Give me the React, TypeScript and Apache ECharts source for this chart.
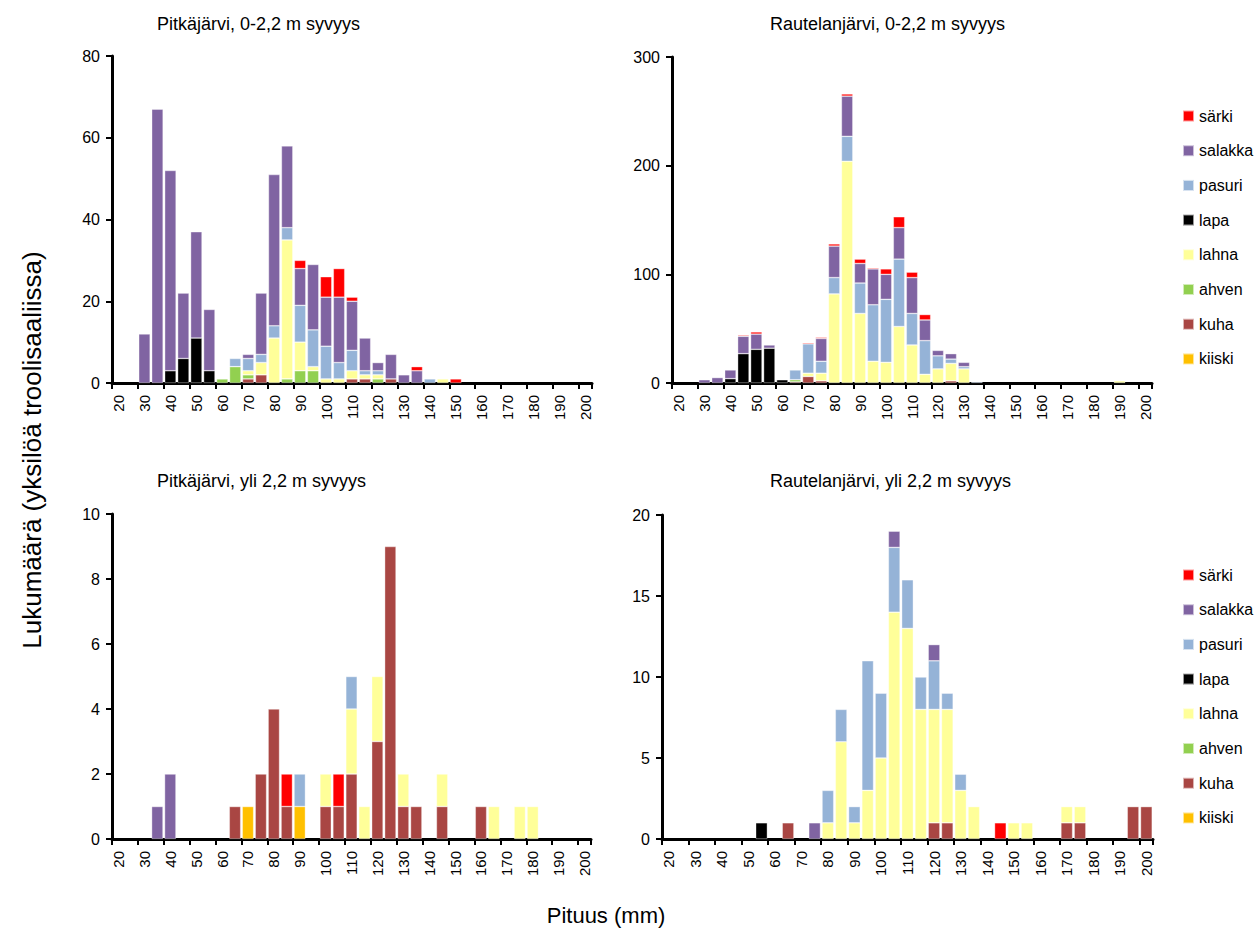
import React, { useEffect, useRef } from "react";
import * as echarts from "echarts";

// Length classes (mm)
const lengthClasses = [
  "20", "25", "30", "35", "40", "45", "50", "55", "60", "65",
  "70", "75", "80", "85", "90", "95", "100", "105", "110", "115",
  "120", "125", "130", "135", "140", "145", "150", "155", "160", "165",
  "170", "175", "180", "185", "190", "195", "200",
];

// Stack order bottom -> top
const speciesNames = ["kiiski", "kuha", "ahven", "lahna", "lapa", "pasuri", "salakka", "särki"];
const speciesColors = ["#FFC000", "#A94643", "#92D050", "#FFFF99", "#000000", "#95B3D7", "#8064A2", "#FF0000"];
const legendOrder = ["särki", "salakka", "pasuri", "lapa", "lahna", "ahven", "kuha", "kiiski"];

const panelTitles = [
  "Pitkäjärvi, 0-2,2 m syvyys",
  "Rautelanjärvi, 0-2,2 m syvyys",
  "Pitkäjärvi, yli 2,2 m syvyys",
  "Rautelanjärvi, yli 2,2 m syvyys",
];
const yMax = [80, 300, 10, 20];
const yInterval = [20, 100, 2, 5];

// Panel 1: Pitkäjärvi 0-2,2 m
const p1Kiiski = [0,0,0,0,0,0,0,0,0,0, 0,0,0,0,0,0,0,0,0,0, 0,0,0,0,0,0,0,0,0,0, 0,0,0,0,0,0,0];
const p1Kuha = [0,0,0,0,0,0,0,0,0,0, 1,2,0,0,0,0,0,0,1,1, 0,1,0,0,0,0,0,0,0,0, 0,0,0,0,0,0,0];
const p1Ahven = [0,0,0,0,0,0,0,0,1,4, 1,0,0,1,3,3,0,0,0,0, 1,0,0,0,0,0,0,0,0,0, 0,0,0,0,0,0,0];
const p1Lahna = [0,0,0,0,0,0,0,0,0,0, 1,3,11,34,7,1,1,1,2,1, 1,0,0,0,0,1,0,0,0,0, 0,0,0,0,0,0,0];
const p1Lapa = [0,0,0,0,3,6,11,3,0,0, 0,0,0,0,0,0,0,0,0,0, 0,0,0,0,0,0,0,0,0,0, 0,0,0,0,0,0,0];
const p1Pasuri = [0,0,0,0,0,0,0,0,0,2, 3,2,3,3,9,9,8,4,5,1, 1,0,0,0,1,0,0,0,0,0, 0,0,0,0,0,0,0];
const p1Salakka = [0,0,12,67,49,16,26,15,0,0, 1,15,37,20,9,16,12,16,12,8, 2,6,2,3,0,0,0,0,0,0, 0,0,0,0,0,0,0];
const p1Sarki = [0,0,0,0,0,0,0,0,0,0, 0,0,0,0,2,0,5,7,1,0, 0,0,0,1,0,0,1,0,0,0, 0,0,0,0,0,0,0];

// Panel 2: Rautelanjärvi 0-2,2 m
const p2Kiiski = [0,0,0,0,0,0,0,0,0,0, 0,0,0,0,0,0,0,0,0,0, 0,0,0,0,0,0,0,0,0,0, 0,0,0,0,0,0,0];
const p2Kuha = [0,0,0,0,0,0,0,0,0,1, 6,2,0,0,0,0,0,0,0,0, 0,2,0,0,0,0,0,0,0,0, 0,0,0,0,0,0,0];
const p2Ahven = [0,0,0,0,0,0,0,0,0,2, 0,0,0,0,0,0,0,0,0,0, 0,0,0,0,0,0,0,0,0,0, 0,0,0,0,0,0,0];
const p2Lahna = [0,0,0,0,0,0,0,0,0,0, 3,7,82,204,64,20,19,52,35,8, 13,16,13,0,0,0,0,0,0,0, 0,0,0,0,2,0,0];
const p2Lapa = [0,0,0,0,4,27,31,32,3,0, 0,0,0,0,0,0,0,0,0,0, 0,0,0,0,0,0,0,0,0,0, 0,0,0,0,0,0,0];
const p2Pasuri = [0,0,0,0,0,0,0,0,0,9, 27,11,15,23,28,52,58,62,29,31, 12,4,2,1,0,0,0,0,0,0, 0,0,0,0,0,0,0];
const p2Salakka = [0,0,3,5,8,16,14,3,0,0, 0,21,29,37,18,33,23,29,33,19, 5,5,4,0,0,0,0,0,0,0, 0,0,0,0,0,0,0];
const p2Sarki = [0,0,0,0,0,1,2,0,0,0, 1,1,2,2,4,1,5,10,5,5, 0,0,0,0,0,0,0,0,0,0, 0,0,0,0,0,0,0];

// Panel 3: Pitkäjärvi yli 2,2 m
const p3Kiiski = [0,0,0,0,0,0,0,0,0,0, 1,0,0,0,1,0,0,0,0,0, 0,0,0,0,0,0,0,0,0,0, 0,0,0,0,0,0,0];
const p3Kuha = [0,0,0,0,0,0,0,0,0,1, 0,2,4,1,0,0,1,1,2,0, 3,9,1,1,0,1,0,0,1,0, 0,0,0,0,0,0,0];
const p3Ahven = [0,0,0,0,0,0,0,0,0,0, 0,0,0,0,0,0,0,0,0,0, 0,0,0,0,0,0,0,0,0,0, 0,0,0,0,0,0,0];
const p3Lahna = [0,0,0,0,0,0,0,0,0,0, 0,0,0,0,0,0,1,0,2,1, 2,0,1,0,0,1,0,0,0,1, 0,1,1,0,0,0,0];
const p3Lapa = [0,0,0,0,0,0,0,0,0,0, 0,0,0,0,0,0,0,0,0,0, 0,0,0,0,0,0,0,0,0,0, 0,0,0,0,0,0,0];
const p3Pasuri = [0,0,0,0,0,0,0,0,0,0, 0,0,0,0,1,0,0,0,1,0, 0,0,0,0,0,0,0,0,0,0, 0,0,0,0,0,0,0];
const p3Salakka = [0,0,0,1,2,0,0,0,0,0, 0,0,0,0,0,0,0,0,0,0, 0,0,0,0,0,0,0,0,0,0, 0,0,0,0,0,0,0];
const p3Sarki = [0,0,0,0,0,0,0,0,0,0, 0,0,0,1,0,0,0,1,0,0, 0,0,0,0,0,0,0,0,0,0, 0,0,0,0,0,0,0];

// Panel 4: Rautelanjärvi yli 2,2 m
const p4Kiiski = [0,0,0,0,0,0,0,0,0,0, 0,0,0,0,0,0,0,0,0,0, 0,0,0,0,0,0,0,0,0,0, 0,0,0,0,0,0,0];
const p4Kuha = [0,0,0,0,0,0,0,0,0,1, 0,0,0,0,0,0,0,0,0,0, 1,1,0,0,0,0,0,0,0,0, 1,1,0,0,0,2,2];
const p4Ahven = [0,0,0,0,0,0,0,0,0,0, 0,0,0,0,0,0,0,0,0,0, 0,0,0,0,0,0,0,0,0,0, 0,0,0,0,0,0,0];
const p4Lahna = [0,0,0,0,0,0,0,0,0,0, 0,0,1,6,1,3,5,14,13,8, 7,7,3,2,0,0,1,1,0,0, 1,1,0,0,0,0,0];
const p4Lapa = [0,0,0,0,0,0,0,1,0,0, 0,0,0,0,0,0,0,0,0,0, 0,0,0,0,0,0,0,0,0,0, 0,0,0,0,0,0,0];
const p4Pasuri = [0,0,0,0,0,0,0,0,0,0, 0,0,2,2,1,8,4,4,3,2, 3,1,1,0,0,0,0,0,0,0, 0,0,0,0,0,0,0];
const p4Salakka = [0,0,0,0,0,0,0,0,0,0, 0,1,0,0,0,0,0,1,0,0, 1,0,0,0,0,0,0,0,0,0, 0,0,0,0,0,0,0];
const p4Sarki = [0,0,0,0,0,0,0,0,0,0, 0,0,0,0,0,0,0,0,0,0, 0,0,0,0,0,1,0,0,0,0, 0,0,0,0,0,0,0];

const panelData = [
  [p1Kiiski, p1Kuha, p1Ahven, p1Lahna, p1Lapa, p1Pasuri, p1Salakka, p1Sarki],
  [p2Kiiski, p2Kuha, p2Ahven, p2Lahna, p2Lapa, p2Pasuri, p2Salakka, p2Sarki],
  [p3Kiiski, p3Kuha, p3Ahven, p3Lahna, p3Lapa, p3Pasuri, p3Salakka, p3Sarki],
  [p4Kiiski, p4Kuha, p4Ahven, p4Lahna, p4Lapa, p4Pasuri, p4Salakka, p4Sarki],
];

const grids = [
  { left: 112, top: 56, width: 480, height: 327 },
  { left: 672, top: 57, width: 480, height: 326 },
  { left: 112, top: 514, width: 479, height: 325 },
  { left: 662, top: 515, width: 491, height: 324 },
];
const titlePos = [
  { left: 157, top: 15 },
  { left: 770, top: 15 },
  { left: 157, top: 472 },
  { left: 770, top: 472 },
];

const TICK_FONT = "'Liberation Sans', Arial, sans-serif";
const TEXT_FONT = "'Liberation Sans', Arial, sans-serif";

export default function App() {
  const ref = useRef<HTMLDivElement>(null);
  useEffect(() => {
    if (!ref.current) return;
    const chart = echarts.init(ref.current, null, { renderer: "svg" });

    const xAxis = grids.map((_, i) => ({
      type: "category",
      gridIndex: i,
      data: lengthClasses,
      boundaryGap: true,
      axisLine: { show: true, lineStyle: { color: "#000", width: 3 } },
      axisTick: { show: true, interval: 1, length: 6, lineStyle: { color: "#000", width: 2 } },
      axisLabel: { interval: 1, rotate: 90, fontSize: 15, color: "#000", fontFamily: TICK_FONT, margin: 12 },
      splitLine: { show: false },
    }));
    const yAxis = grids.map((_, i) => ({
      type: "value",
      gridIndex: i,
      min: 0,
      max: yMax[i],
      interval: yInterval[i],
      axisLine: { show: true, lineStyle: { color: "#000", width: 3 } },
      axisTick: { show: true, length: 6, lineStyle: { color: "#000", width: 2 } },
      axisLabel: { fontSize: 16, color: "#000", fontFamily: TICK_FONT, margin: 12 },
      splitLine: { show: false },
    }));

    const series: any[] = [];
    panelData.forEach((arrays, p) => {
      arrays.forEach((vals, s) => {
        series.push({
          type: "bar",
          name: speciesNames[s],
          stack: "panel" + p,
          xAxisIndex: p,
          yAxisIndex: p,
          barCategoryGap: "12%",
          data: vals.map((v) => (v === 0 ? null : v)),
          itemStyle: { color: speciesColors[s], borderColor: "rgba(255,255,255,0.6)", borderWidth: 0.6 },
          emphasis: { disabled: true },
        });
      });
    });

    const legendBase = {
      data: legendOrder,
      orient: "vertical",
      left: 1182,
      padding: 0,
      itemWidth: 11,
      itemHeight: 11,
      itemGap: 18.7,
      icon: "rect",
      selectedMode: false,
      textStyle: { fontSize: 16, lineHeight: 16, color: "#000", fontFamily: TEXT_FONT },
    };

    chart.setOption({
      animation: false,
      backgroundColor: "#fff",
      title: panelTitles.map((t, i) => ({
        text: t,
        left: titlePos[i].left,
        top: titlePos[i].top,
        padding: 0,
        textStyle: { fontSize: 18, fontWeight: "normal", color: "#000", fontFamily: TEXT_FONT },
      })),
      legend: [
        { ...legendBase, top: 108 },
        { ...legendBase, top: 567 },
      ],
      grid: grids.map((g) => ({ ...g, containLabel: false })),
      xAxis,
      yAxis,
      series,
      graphic: [
        {
          type: "text",
          x: 32,
          y: 450,
          rotation: Math.PI / 2,
          style: {
            text: "Lukumäärä (yksilöä troolisaaliissa)",
            font: "26px " + TEXT_FONT,
            fill: "#000",
            textAlign: "center",
            textVerticalAlign: "middle",
          },
        },
        {
          type: "text",
          x: 606,
          y: 915,
          style: {
            text: "Pituus (mm)",
            font: "22px " + TEXT_FONT,
            fill: "#000",
            textAlign: "center",
            textVerticalAlign: "middle",
          },
        },
      ],
    });
    return () => chart.dispose();
  }, []);

  return (
    <div
      ref={ref}
      style={{ position: "absolute", left: 0, top: 0, width: 1258, height: 931, background: "#fff" }}
    />
  );
}
